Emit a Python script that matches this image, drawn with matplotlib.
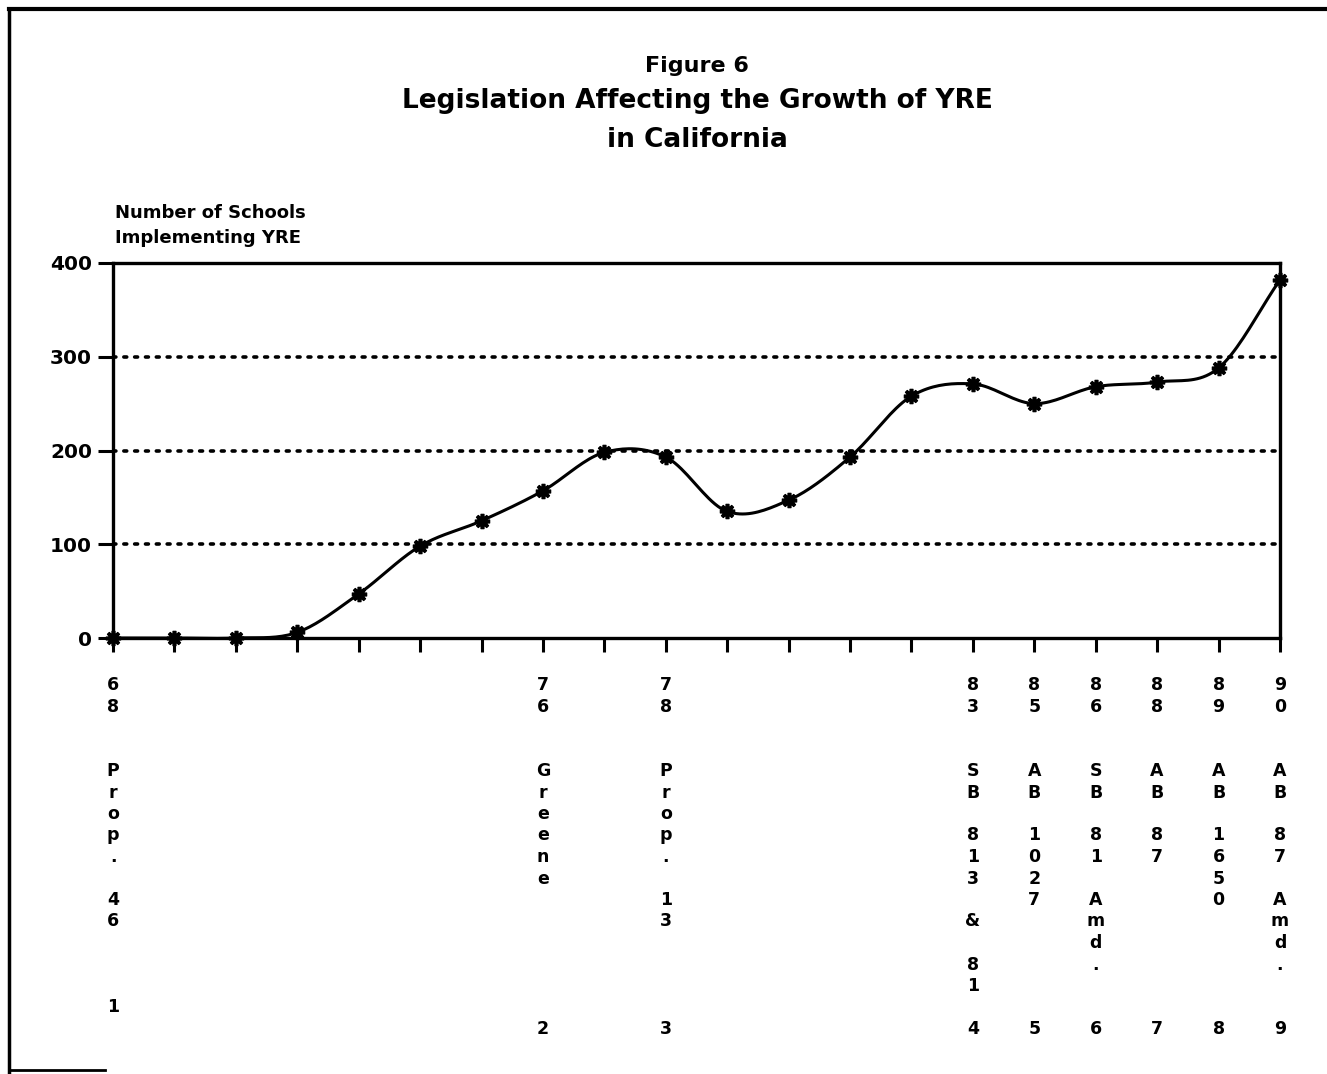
import matplotlib.pyplot as plt
import numpy as np
from matplotlib.lines import Line2D

# Number of schools implementing YRE, one value per point along the axis
schools = [0, 0, 0, 6, 47, 98, 125, 157, 198, 193, 135, 147, 193, 258, 271, 250, 268, 273, 288, 382]
x = np.arange(len(schools))

# Points that carry a legislation label below the axis
label_idx = [0, 7, 9, 14, 15, 16, 17, 18, 19]
label_years = ['68', '76', '78', '83', '85', '86', '88', '89', '90']
label_bills = ['Prop. 46', 'Greene', 'Prop. 13', 'SB 813 & 81', 'AB 1027',
               'SB 81 Amd.', 'AB 87', 'AB 1650', 'AB 87 Amd.']
note_nums = ['1', '2', '3', '4', '5', '6', '7', '8', '9']
note_rows = [15, 16, 16, 16, 16, 16, 16, 16, 16]

yticks = [0, 100, 200, 300, 400]


# Catmull-Rom curve through the data, just to draw the smooth line
def smooth_curve(xs, ys, steps=20):
    xs = np.asarray(xs, float)
    ys = np.asarray(ys, float)
    px = np.concatenate([[2 * xs[0] - xs[1]], xs, [2 * xs[-1] - xs[-2]]])
    py = np.concatenate([[2 * ys[0] - ys[1]], ys, [2 * ys[-1] - ys[-2]]])
    out_x, out_y = [], []
    t = np.linspace(0, 1, steps, endpoint=False)
    for i in range(1, len(px) - 2):
        for arr, out in ((px, out_x), (py, out_y)):
            p0, p1, p2, p3 = arr[i - 1], arr[i], arr[i + 1], arr[i + 2]
            out.extend(0.5 * ((2 * p1) + (-p0 + p2) * t
                              + (2 * p0 - 5 * p1 + 4 * p2 - p3) * t ** 2
                              + (-p0 + 3 * p1 - 3 * p2 + p3) * t ** 3))
    out_x.append(xs[-1])
    out_y.append(ys[-1])
    return np.array(out_x), np.array(out_y)


plt.rcParams['font.family'] = ['DejaVu Sans']
plt.rcParams['font.weight'] = 'bold'

W, H = 1327, 1074
fig = plt.figure(figsize=(W / 100, H / 100), dpi=100)
ax = fig.add_axes([113 / W, (H - 638) / H, (1280 - 113) / W, 375 / H])

# dotted grid lines
for v in yticks[1:-1]:
    ax.axhline(v, color='black', linestyle=(0, (0.8, 2.2)), linewidth=2.6,
               dash_capstyle='round', zorder=1)

cx, cy = smooth_curve(x, schools)
ax.plot(cx, cy, color='black', linewidth=2.2, zorder=3, clip_on=False)
ax.plot(x, schools, linestyle='none', marker=(8, 2, 0), markersize=11,
        markeredgewidth=2.6, color='black', zorder=4, clip_on=False)

ax.set_xlim(0, len(schools) - 1)
ax.set_ylim(0, 400)
ax.set_yticks(yticks)
ax.set_yticklabels([str(v) for v in yticks], fontsize=14.5, fontweight='bold')
ax.set_xticks(x)
ax.set_xticklabels([])
ax.tick_params(axis='x', direction='out', length=10, width=2.2, pad=0)
ax.tick_params(axis='y', direction='out', length=11, width=2.2, pad=4)
for s in ax.spines.values():
    s.set_linewidth(2.4)

# stacked, one-character-per-row labels under the axis
row_px = 21.5
first_px = 47
pt = 72 / 100
for i, yr, bill, num, nrow in zip(label_idx, label_years, label_bills, note_nums, note_rows):
    chars = list(yr) + ['', ''] + list(bill)
    for r, ch in enumerate(chars):
        if ch.strip():
            ax.annotate(ch, xy=(i, 0), xycoords=('data', 'axes fraction'),
                        xytext=(0, -(first_px + r * row_px) * pt), textcoords='offset points',
                        ha='center', va='center', fontsize=12.5, fontweight='bold',
                        annotation_clip=False)
    ax.annotate(num, xy=(i, 0), xycoords=('data', 'axes fraction'),
                xytext=(0, -(first_px + nrow * row_px) * pt), textcoords='offset points',
                ha='center', va='center', fontsize=12.5, fontweight='bold',
                annotation_clip=False)

# axis title above the y axis
fig.text(115 / W, 1 - 213 / H, 'Number of Schools', ha='left', va='center',
         fontsize=13, fontweight='bold')
fig.text(115 / W, 1 - 238 / H, 'Implementing YRE', ha='left', va='center',
         fontsize=13, fontweight='bold')

# titles
cxf = 697 / W
fig.text(cxf, 1 - 66 / H, 'Figure 6', ha='center', va='center', fontsize=16, fontweight='bold')
fig.text(cxf, 1 - 101 / H, 'Legislation Affecting the Growth of YRE', ha='center', va='center',
         fontsize=19, fontweight='bold')
fig.text(cxf, 1 - 140 / H, 'in California', ha='center', va='center',
         fontsize=19, fontweight='bold')

# page frame
fig.add_artist(Line2D([9 / W, 9 / W], [0, 1 - 9 / H], color='black', linewidth=2.5,
                      transform=fig.transFigure))
fig.add_artist(Line2D([9 / W, 1], [1 - 9 / H, 1 - 9 / H], color='black', linewidth=3,
                      transform=fig.transFigure))
fig.add_artist(Line2D([9 / W, 105 / W], [4 / H, 4 / H], color='black', linewidth=2,
                      transform=fig.transFigure))

plt.savefig('out.png', dpi=100)
